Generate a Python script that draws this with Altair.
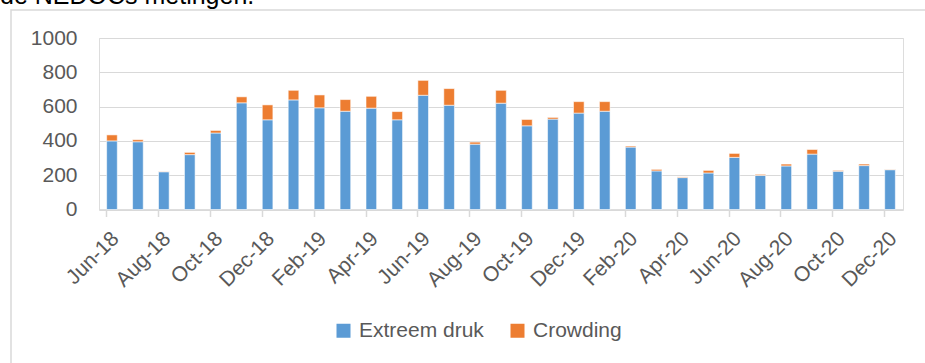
import altair as alt
import pandas as pd

months = ["Jun-18", "Jul-18", "Aug-18", "Sep-18", "Oct-18", "Nov-18", "Dec-18",
          "Jan-19", "Feb-19", "Mar-19", "Apr-19", "May-19", "Jun-19", "Jul-19",
          "Aug-19", "Sep-19", "Oct-19", "Nov-19", "Dec-19", "Jan-20", "Feb-20",
          "Mar-20", "Apr-20", "May-20", "Jun-20", "Jul-20", "Aug-20", "Sep-20",
          "Oct-20", "Nov-20", "Dec-20"]
extreem_druk = [400, 395, 220, 320, 446, 622, 523, 639, 593, 573, 591, 523, 666, 608,
                381, 620, 488, 527, 562, 573, 364, 225, 186, 213, 304, 199, 254, 323,
                223, 256, 232]
crowding = [35, 12, 2, 13, 15, 35, 87, 56, 75, 68, 69, 48, 87, 97,
            12, 75, 37, 10, 67, 56, 6, 9, 4, 15, 23, 6, 11, 27,
            5, 9, 2]
series = ["Extreem druk", "Crowding"]
colors = ["#5B9BD5", "#ED7D31"]
y_ticks = [0, 200, 400, 600, 800, 1000]
label_months = months[::2]
heading = "de NEDOCs metingen."

rows = []
for m, e, c in zip(months, extreem_druk, crowding):
    rows.append({"maand": m, "serie": series[0], "waarde": e, "ord": 0})
    rows.append({"maand": m, "serie": series[1], "waarde": c, "ord": 1})
df = pd.DataFrame(rows)

FONT = "Liberation Sans"
TXT = "#595959"
GRID = "#D9D9D9"
FS = 21

bars = alt.Chart(df).mark_bar(stroke="white", strokeWidth=0.8, strokeOpacity=0.7).encode(
    x=alt.X("maand:N", sort=months, title=None,
            scale=alt.Scale(paddingInner=0.59, paddingOuter=0.295),
            axis=alt.Axis(values=label_months, labelAngle=-45, labelAlign="right",
                          labelBaseline="top", labelPadding=11, labelOffset=-4,
                          labelFont=FONT, labelFontSize=FS, labelColor=TXT,
                          bandPosition=0, tickExtra=False, tickSize=7,
                          tickColor=GRID, tickWidth=1.5, domainColor=GRID,
                          domainWidth=1.5, grid=False, labelOverlap=False)),
    y=alt.Y("waarde:Q", stack="zero", title=None,
            scale=alt.Scale(domain=[0, 1000], nice=False),
            axis=alt.Axis(values=y_ticks, format="d", ticks=False, domain=False,
                          labelPadding=22,
                          labelFont=FONT, labelFontSize=FS, labelColor=TXT,
                          gridColor=GRID, gridWidth=1.2)),
    color=alt.Color("serie:N", scale=alt.Scale(domain=series, range=colors),
                    sort=series,
                    legend=alt.Legend(title=None, orient="none", direction="horizontal",
                                      legendX=234, legendY=282,
                                      symbolType="square", symbolSize=196,
                                      symbolStrokeWidth=0, symbolOpacity=1,
                                      labelFont=FONT, labelFontSize=FS,
                                      labelColor=TXT, columnPadding=23,
                                      labelOffset=5)),
    order=alt.Order("ord:Q", sort="ascending"),
)

one = pd.DataFrame({"a": [0]})

frame = alt.Chart(one).mark_rect(
    fill=None, stroke=GRID, strokeWidth=1.5
).encode(
    x=alt.value(-88), x2=alt.value(900), y=alt.value(-28), y2=alt.value(400)
)

head = alt.Chart(one).mark_text(
    align="left", baseline="alphabetic", font=FONT, fontSize=25, color="#000000"
).encode(
    x=alt.value(-99), y=alt.value(-34), text=alt.value(heading)
)

chart = alt.layer(frame, head, bars).properties(
    width=804, height=171.5,
    padding={"left": 99, "top": 38, "right": 22, "bottom": 153},
    autosize=alt.AutoSizeParams(type="none"),
).configure_view(stroke=None).configure(background="white")

chart.save("out.html", embed_options={"renderer": "svg", "actions": False})
